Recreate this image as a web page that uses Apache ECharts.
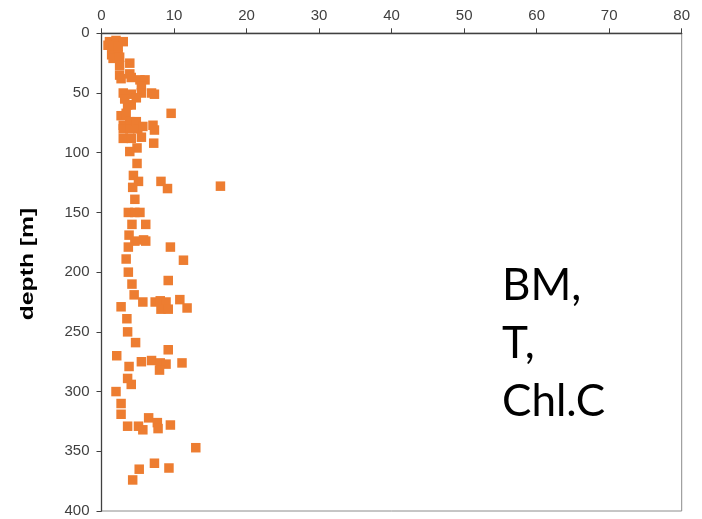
<!DOCTYPE html>
<html>
<head>
<meta charset="utf-8">
<style>
  html, body { margin: 0; padding: 0; background: #fff; }
  #chart { width: 702px; height: 519px; }
</style>
<script src="https://cdn.jsdelivr.net/npm/echarts@6/dist/echarts.min.js"></script>
</head>
<body>
<div id="chart"></div>
<script>
// Measured values: concentration (x) against sampling depth in metres (y)
const concentration = [
  1.1, 2.0, 3.0, 0.9, 1.6, 2.3, 1.4, 2.3, 1.6, 2.5,
  2.5, 3.9, 2.5, 3.9, 2.7, 4.1, 5.3, 6.0, 5.5, 3.0,
  4.1, 5.5, 6.9, 7.3, 4.8, 3.2, 3.6, 4.1, 2.7, 3.4,
  9.6, 3.0, 3.0, 3.9, 3.9, 4.8, 5.0, 5.7, 7.1, 7.3,
  3.0, 4.1, 5.5, 7.2, 4.9, 3.9, 4.9, 4.4, 5.1, 8.2,
  4.3, 9.1, 16.4, 4.6, 3.7, 4.6, 5.3, 4.2, 6.1, 3.8,
  4.6, 5.8, 6.1, 3.7, 9.5, 3.4, 11.3, 3.7, 9.2, 4.2,
  4.5, 5.7, 7.4, 8.1, 8.9, 10.8, 8.2, 9.2, 11.8, 2.7,
  3.5, 3.6, 4.7, 9.2, 2.1, 5.5, 6.9, 8.1, 8.9, 11.1,
  8.0, 3.8, 3.6, 4.1, 2.0, 2.7, 2.7, 6.5, 7.7, 9.5,
  3.6, 5.1, 5.7, 7.8, 13.0, 7.3, 9.3, 5.2, 4.3
];
const depth = [
  7, 6, 7, 10, 13, 11, 18, 18, 21, 20,
  27, 25, 35, 34, 38, 37, 39, 39, 44, 50,
  51, 50, 50, 51, 54, 55, 60, 60, 69, 67,
  67, 77, 80, 74, 80, 74, 80, 78, 77, 81,
  88, 88, 87, 92, 96, 99, 109, 119, 124, 124,
  129, 130, 128, 139, 150, 150, 150, 160, 160, 169,
  174, 173, 174, 179, 179, 189, 190, 200, 207, 210,
  219, 225, 225, 224, 225, 223, 231, 231, 230, 229,
  239, 250, 259, 265, 270, 275, 274, 276, 277, 276,
  282, 279, 289, 294, 300, 310, 319, 322, 326, 328,
  329, 329, 332, 331, 347, 360, 364, 365, 374
];
const xTicks = { min: 0, max: 80, step: 10 };
const yTicks = { min: 0, max: 400, step: 50 };
const yTitle = 'depth [m]';
const noteLines = ['BM,', 'T,', 'Chl.C'];

const points = concentration.map((v, i) => [v, depth[i]]);

const chart = echarts.init(document.getElementById('chart'), null, { renderer: 'canvas' });
const sansFamily = "'Liberation Sans', Arial, sans-serif";
const labelStyle = { color: '#404040', fontFamily: sansFamily, fontSize: 15 };

chart.setOption({
  animation: false,
  backgroundColor: '#ffffff',
  grid: {
    left: 101.5, right: 20.3, top: 33.3, bottom: 8,
    show: true, borderColor: '#8c8c8c', borderWidth: 1, backgroundColor: 'transparent'
  },
  xAxis: {
    type: 'value',
    position: 'top',
    min: xTicks.min, max: xTicks.max, interval: xTicks.step,
    axisLine: { show: true, lineStyle: { color: '#404040', width: 1.3 } },
    axisTick: { show: true, inside: false, length: 5, lineStyle: { color: '#404040' } },
    axisLabel: Object.assign({ margin: 10 }, labelStyle),
    splitLine: { show: false }
  },
  yAxis: {
    type: 'value',
    inverse: true,
    min: yTicks.min, max: yTicks.max, interval: yTicks.step,
    axisLine: { show: true, lineStyle: { color: '#404040', width: 1.3 } },
    axisTick: { show: true, inside: false, length: 5, lineStyle: { color: '#404040' } },
    axisLabel: Object.assign({ margin: 12 }, labelStyle),
    splitLine: { show: false }
  },
  graphic: [
    {
      // vertical axis title, widened along its reading direction
      type: 'text',
      x: 28,
      y: 264,
      rotation: Math.PI / 2,
      scaleX: 1.3,
      style: {
        text: yTitle,
        font: "bold 19px 'Liberation Sans', Arial, sans-serif",
        fill: '#000',
        align: 'center',
        verticalAlign: 'middle'
      }
    },
    {
      type: 'text',
      left: 502,
      top: 257,
      style: {
        text: noteLines.join('\n'),
        font: '44px Lato, "Open Sans", sans-serif',
        lineHeight: 58,
        fill: '#000'
      }
    }
  ],
  series: [{
    type: 'scatter',
    data: points,
    symbol: 'rect',
    symbolSize: 9.5,
    itemStyle: { color: '#ED7D31', opacity: 1 },
    clip: false
  }]
});
</script>
</body>
</html>
